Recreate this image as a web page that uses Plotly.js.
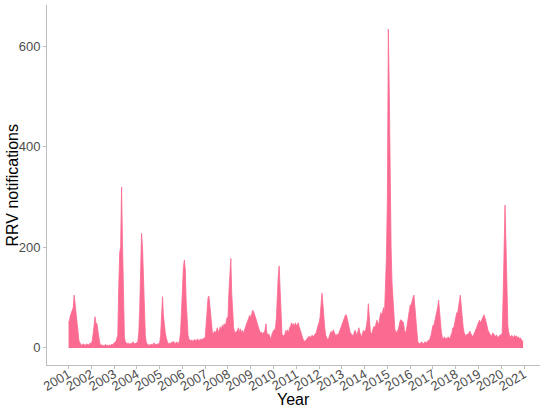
<!DOCTYPE html>
<html>
<head>
<meta charset="utf-8">
<script src="https://cdn.plot.ly/plotly-3.0.1.min.js"></script>
<style>html,body{margin:0;padding:0;background:#fff;}#chart{width:550px;height:411px;}</style>
</head>
<body>
<div id="chart"></div>
<script>
// Semi-monthly (1st and 16th of each month) envelope of RRV notifications
const years = [2001,2002,2003,2004,2005,2006,2007,2008,2009,2010,2011,2012,2013,2014,2015,2016,2017,2018,2019,2020];
const v2001 = [50,55,65,70,72,80,105,85,70,55,30,15,10,6,5,7,8,6,5,8,7,6,8,10];
const v2002 = [8,15,30,45,62,50,48,35,20,10,6,5,6,4,5,7,5,6,4,6,5,7,6,8];
const v2003 = [8,10,13,20,25,120,190,200,320,205,90,20,12,10,8,10,7,9,8,10,12,9,8,10];
const v2004 = [10,12,30,80,175,228,200,135,60,25,10,8,6,5,7,6,8,5,10,7,6,8,7,9];
const v2005 = [10,25,55,102,65,45,30,20,12,8,10,8,10,12,10,13,8,10,12,9,10,14,30,70];
const v2006 = [120,160,175,155,95,55,25,17,15,14,16,12,15,17,13,16,18,14,15,17,16,18,17,20];
const v2007 = [20,40,75,100,103,85,60,40,25,30,33,30,35,40,30,38,42,35,45,40,48,45,50,60];
const v2008 = [60,110,155,178,110,70,40,32,30,33,35,40,30,38,30,35,28,33,40,45,50,55,60,65];
const v2009 = [60,68,75,72,68,62,55,48,40,35,30,32,28,30,30,35,48,30,25,28,20,17,25,30];
const v2010 = [35,35,40,60,110,140,163,120,60,28,23,25,27,35,30,36,30,40,43,50,45,48,42,50];
const v2011 = [45,45,50,42,35,30,25,18,13,12,15,18,20,22,23,20,24,25,22,26,28,30,40,45];
const v2012 = [50,60,85,109,90,60,40,25,20,17,18,27,30,33,28,36,30,25,22,28,25,30,35,40];
const v2013 = [45,50,55,60,66,65,55,45,35,30,28,25,23,30,35,30,25,33,40,30,25,22,30,35];
const v2014 = [32,35,45,60,88,55,35,28,30,38,43,40,48,55,50,45,60,70,65,75,80,70,110,180];
const v2015 = [300,634,500,290,200,130,90,60,36,33,30,35,40,50,56,55,52,50,35,30,35,50,60,75];
const v2016 = [85,85,95,100,105,82,50,25,13,10,8,10,12,10,8,11,12,10,13,15,14,18,25,35];
const v2017 = [45,45,55,58,65,80,95,70,45,30,20,17,22,18,20,17,22,20,18,25,30,40,40,50];
const v2018 = [60,70,70,80,95,105,80,55,40,30,25,22,28,25,30,33,28,25,22,26,30,35,40,46];
const v2019 = [50,55,50,55,60,62,66,60,55,45,35,30,28,25,23,30,28,25,22,26,20,22,24,26];
const v2020 = [25,30,109,208,284,208,109,43,30,23,22,25,23,20,25,22,24,20,22,18,20,16,14,12];
const yearValues = [v2001,v2002,v2003,v2004,v2005,v2006,v2007,v2008,v2009,v2010,
                    v2011,v2012,v2013,v2014,v2015,v2016,v2017,v2018,v2019,v2020];
const tickYears = [2001,2002,2003,2004,2005,2006,2007,2008,2009,2010,2011,2012,2013,2014,2015,2016,2017,2018,2019,2020,2021];
const yTicks = [0,200,400,600];
const xTitle = 'Year';
const yTitle = 'RRV notifications';

const xs = [], ys = [];
years.forEach((yr, k) => {
  yearValues[k].forEach((val, i) => {
    const m = Math.floor(i / 2) + 1;
    const d = (i % 2) ? 16 : 1;
    xs.push(yr + '-' + String(m).padStart(2, '0') + '-' + String(d).padStart(2, '0'));
    ys.push(val);
  });
});

const pink = '#fb6a91';
const trace = {
  x: xs, y: ys, type: 'scatter', mode: 'lines',
  line: {color: pink, width: 0.8, shape: 'linear'},
  fill: 'tozeroy', fillcolor: pink, hoverinfo: 'x+y'
};

const axisGrey = '#bdbdbd';
const layout = {
  width: 550, height: 411,
  margin: {l: 47, r: 10, t: 5, b: 46},
  paper_bgcolor: '#fff', plot_bgcolor: '#fff',
  showlegend: false,
  font: {family: 'Liberation Sans, Arial, sans-serif', color: '#4d4d4d'},
  xaxis: {
    type: 'date',
    range: ['2000-01-21', '2021-09-13'],
    tickvals: tickYears.map(y => y + '-01-01'),
    ticktext: tickYears.map(String),
    tickangle: -30,
    ticks: 'outside', ticklen: 3, tickcolor: axisGrey, tickwidth: 1,
    ticklabelstandoff: -7,
    showline: true, linecolor: axisGrey, linewidth: 1,
    showgrid: false, zeroline: false,
    tickfont: {size: 13, color: '#4d4d4d'}
  },
  yaxis: {
    range: [-34, 682],
    tickvals: yTicks,
    ticks: 'outside', ticklen: 3, tickcolor: axisGrey, tickwidth: 1,
    showline: true, linecolor: axisGrey, linewidth: 1,
    showgrid: false, zeroline: false,
    tickfont: {size: 13, color: '#4d4d4d'}
  },
  annotations: [
    {text: xTitle, xref: 'paper', yref: 'paper', x: 0.5, y: -0.097,
     xanchor: 'center', yanchor: 'middle', showarrow: false,
     font: {size: 16, color: '#000'}},
    {text: yTitle, xref: 'paper', yref: 'paper', x: -0.07, y: 0.5,
     xanchor: 'center', yanchor: 'middle', showarrow: false, textangle: -90,
     font: {size: 16, color: '#000'}}
  ]
};

Plotly.newPlot('chart', [trace], layout, {displayModeBar: false, staticPlot: true});
</script>
</body>
</html>
